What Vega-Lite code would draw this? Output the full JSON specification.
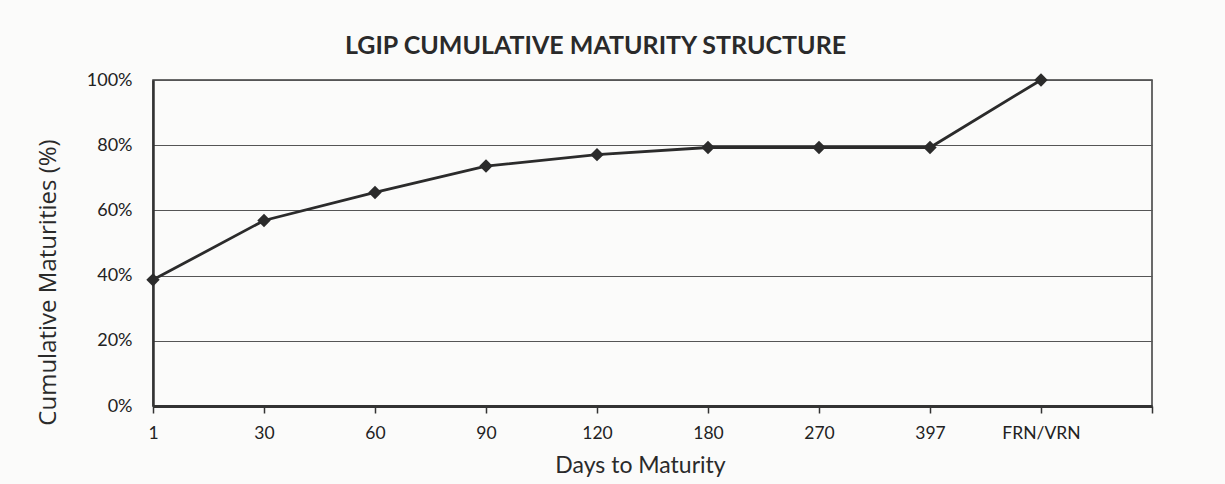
{
  "$schema": "https://vega.github.io/schema/vega-lite/v6.json",
  "autosize": "none",
  "width": 999,
  "height": 326,
  "padding": {"left": 153, "top": 80, "right": 73, "bottom": 78},
  "background": "#fbfbfa",
  "config": {
    "view": {"stroke": "#3a3a3a", "strokeWidth": 1.5},
    "font": "Lato"
  },
  "title": {
    "text": "LGIP CUMULATIVE MATURITY STRUCTURE",
    "font": "Lato",
    "fontSize": 25,
    "fontWeight": "bold",
    "color": "#2a2a2a",
    "anchor": "middle",
    "frame": "group",
    "dx": -57,
    "offset": 12
  },
  "data": {
    "values": [
      {"days": "1", "pct": 0.387},
      {"days": "30", "pct": 0.569},
      {"days": "60", "pct": 0.655},
      {"days": "90", "pct": 0.736},
      {"days": "120", "pct": 0.771},
      {"days": "180", "pct": 0.793},
      {"days": "270", "pct": 0.793},
      {"days": "397", "pct": 0.793},
      {"days": "FRN/VRN", "pct": 1.0}
    ]
  },
  "encoding": {
    "x": {
      "field": "days",
      "type": "ordinal",
      "scale": {"type": "point", "padding": 0, "domain": ["1", "30", "60", "90", "120", "180", "270", "397", "FRN/VRN", ""]},
      "axis": {
        "title": "Days to Maturity",
        "titleFont": "Lato",
        "titleFontSize": 23,
        "titleFontWeight": "normal",
        "titleColor": "#2a2a2a",
        "titleX": 487,
        "titleY": 59,
        "titleBaseline": "middle",
        "labelAngle": 0,
        "labelFont": "Lato",
        "labelFontSize": 17.5,
        "labelColor": "#222222",
        "labelPadding": 11,
        "domainColor": "#333333",
        "domainWidth": 3,
        "tickColor": "#333333",
        "tickSize": 7,
        "tickWidth": 1.5,
        "grid": false
      }
    },
    "y": {
      "field": "pct",
      "type": "quantitative",
      "scale": {"domain": [0, 1], "nice": false},
      "axis": {
        "title": "Cumulative Maturities (%)",
        "titleFont": "Open Sans",
        "titleFontSize": 24,
        "titleFontWeight": "normal",
        "titleColor": "#2a2a2a",
        "titleAngle": -90,
        "titleX": -105,
        "titleY": 202,
        "titleBaseline": "middle",
        "titleAlign": "center",
        "format": ".0%",
        "values": [0, 0.2, 0.4, 0.6, 0.8, 1.0],
        "labelFont": "Lato",
        "labelFontSize": 18,
        "labelColor": "#222222",
        "labelPadding": 21,
        "tickSize": 0,
        "domainColor": "#333333",
        "domainWidth": 2.5,
        "grid": true,
        "gridColor": "#555555",
        "gridWidth": 1
      }
    }
  },
  "layer": [
    {"mark": {"type": "line", "color": "#2b2b2b", "strokeWidth": 2.8}},
    {"mark": {"type": "point", "shape": "diamond", "filled": true, "color": "#2b2b2b", "size": 180, "opacity": 1}}
  ]
}
